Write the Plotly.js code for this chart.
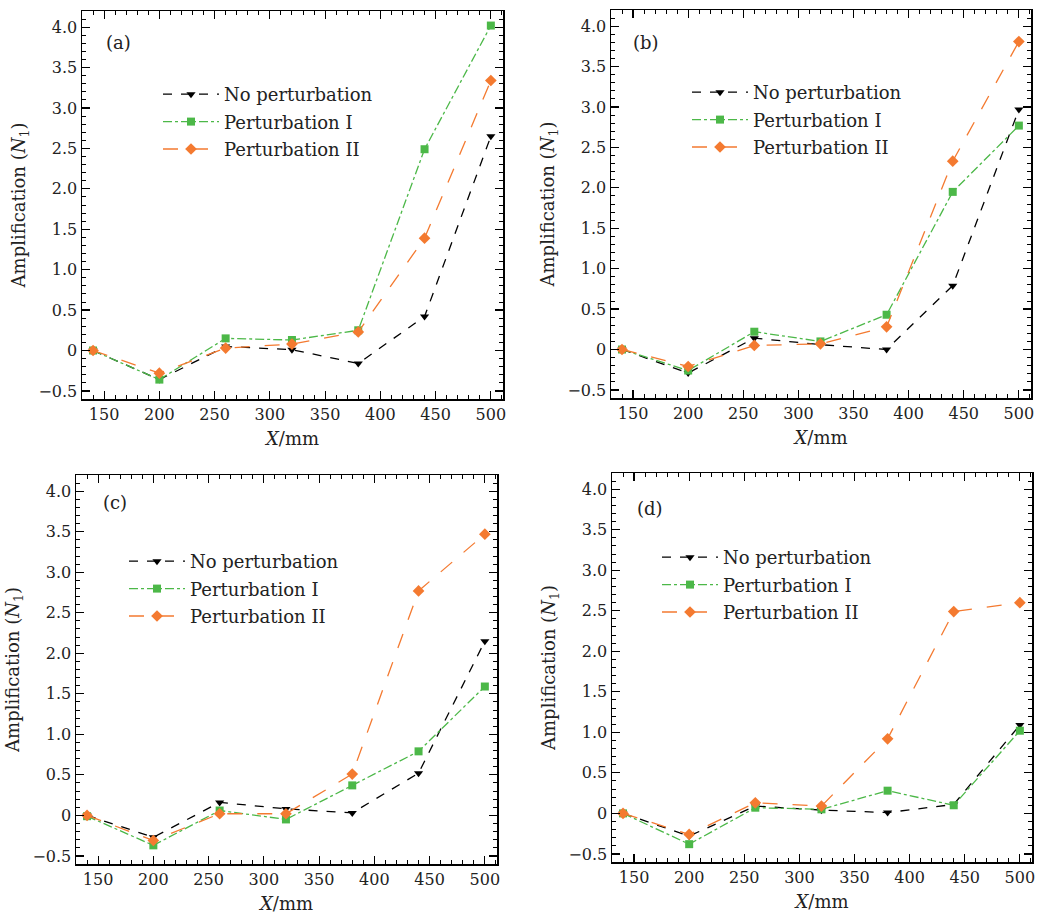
<!DOCTYPE html>
<html>
<head>
<meta charset="utf-8">
<script src="https://cdn.plot.ly/plotly-3.0.1.min.js"></script>
<style>html,body{margin:0;padding:0;background:#fff;}#chart{width:1043px;height:922px;}</style>
</head>
<body>
<div id="chart"></div>
<script>
// ---- data ----
const xPos = [140, 200, 260, 320, 380, 440, 500];
const seriesNames = ["No perturbation", "Perturbation I", "Perturbation II"];
const panelLabels = ["(a)", "(b)", "(c)", "(d)"];

const aNone = [0, -0.36, 0.05, 0.01, -0.16, 0.42, 2.65];
const aPert1 = [0, -0.36, 0.15, 0.13, 0.25, 2.49, 4.02];
const aPert2 = [0, -0.28, 0.03, 0.08, 0.23, 1.39, 3.34];

const bNone = [0, -0.29, 0.14, 0.06, 0.0, 0.79, 2.97];
const bPert1 = [0, -0.26, 0.22, 0.10, 0.43, 1.95, 2.77];
const bPert2 = [0, -0.21, 0.05, 0.07, 0.28, 2.33, 3.81];

const cNone = [0, -0.27, 0.16, 0.08, 0.03, 0.52, 2.15];
const cPert1 = [-0.01, -0.37, 0.06, -0.05, 0.37, 0.79, 1.59];
const cPert2 = [0, -0.31, 0.02, 0.02, 0.51, 2.77, 3.47];

const dNone = [0, -0.28, 0.09, 0.04, 0.01, 0.11, 1.09];
const dPert1 = [0, -0.38, 0.07, 0.05, 0.28, 0.10, 1.02];
const dPert2 = [0, -0.26, 0.13, 0.09, 0.92, 2.49, 2.60];

const xTickVals = [150, 200, 250, 300, 350, 400, 450, 500];
const xTickText = ["150", "200", "250", "300", "350", "400", "450", "500"];
const yTickVals = [-0.5, 0, 0.5, 1.0, 1.5, 2.0, 2.5, 3.0, 3.5, 4.0];
const yTickText = ["\u22120.5", "0", "0.5", "1.0", "1.5", "2.0", "2.5", "3.0", "3.5", "4.0"];

// ---- styles ----
const FONT = "DejaVu Serif";
const styles = [
  {color: "#000000", dash: "dash", symbol: "triangle-down", size: 8},
  {color: "#4cb848", dash: "dashdot", symbol: "square", size: 8},
  {color: "#f47a30", dash: "longdash", symbol: "diamond", size: 9}
];
const panels = [
  {data: [aNone, aPert1, aPert2], xd: [82/1043, 503/1043], yd: [1-399/922, 1-11/922],
   leg: {x: 158/1043, y: 1-76/922}, lab: {x: 104/1043, y: 1-43/922}},
  {data: [bNone, bPert1, bPert2], xd: [611/1043, 1031/1043], yd: [1-398/922, 1-10/922],
   leg: {x: 687/1043, y: 1-74/922}, lab: {x: 631/1043, y: 1-43/922}},
  {data: [cNone, cPert1, cPert2], xd: [76/1043, 497/1043], yd: [1-864/922, 1-475/922],
   leg: {x: 124/1043, y: 1-543/922}, lab: {x: 101/1043, y: 1-503/922}},
  {data: [dNone, dPert1, dPert2], xd: [612/1043, 1032/1043], yd: [1-862/922, 1-473/922],
   leg: {x: 657/1043, y: 1-539/922}, lab: {x: 635/1043, y: 1-508/922}}
];

const traces = [];
const layout = {
  width: 1043, height: 922,
  margin: {l: 0, r: 0, t: 0, b: 0},
  paper_bgcolor: "#ffffff", plot_bgcolor: "#ffffff",
  font: {family: FONT, color: "#222222"},
  annotations: []
};

panels.forEach((p, i) => {
  const n = i === 0 ? "" : String(i + 1);
  const legName = "legend" + n;
  p.data.forEach((vals, k) => {
    const s = styles[k];
    traces.push({
      type: "scatter", mode: "lines+markers",
      x: xPos, y: vals, name: seriesNames[k],
      xaxis: "x" + n, yaxis: "y" + n,
      legend: legName, legendgroup: "g" + i + "_" + k,
      line: {color: s.color, dash: s.dash, width: 1.3},
      marker: {symbol: s.symbol, size: s.size, color: s.color}
    });
  });
  const axBase = {
    showline: true, linecolor: "#000", linewidth: 1.5, mirror: "allticks",
    ticks: "inside", ticklen: 8, tickwidth: 1.2, tickcolor: "#000",
    showgrid: false, zeroline: false,
    tickfont: {family: FONT, size: 16, color: "#222"}
  };
  layout["xaxis" + n] = Object.assign({}, axBase, {
    domain: p.xd, anchor: "y" + n, range: [130, 511],
    tickmode: "array", tickvals: xTickVals, ticktext: xTickText,
    minor: {dtick: 10, tick0: 0, ticks: "inside", ticklen: 4, tickwidth: 1, tickcolor: "#000", showgrid: false},
    title: {text: "<i>X</i>/mm", font: {family: FONT, size: 18, color: "#222"}, standoff: 9}
  });
  layout["yaxis" + n] = Object.assign({}, axBase, {
    domain: p.yd, anchor: "x" + n, range: [-0.6, 4.2],
    tickmode: "array", tickvals: yTickVals, ticktext: yTickText,
    minor: {dtick: 0.1, tick0: 0, ticks: "inside", ticklen: 4, tickwidth: 1, tickcolor: "#000", showgrid: false},
    title: {text: "Amplification (<i>N</i><sub>1</sub>)", font: {family: FONT, size: 18, color: "#222"}, standoff: 8}
  });
  layout[legName] = {
    x: p.leg.x, y: p.leg.y, xanchor: "left", yanchor: "top",
    bgcolor: "rgba(0,0,0,0)", borderwidth: 0,
    font: {family: FONT, size: 18, color: "#222"},
    traceorder: "grouped", tracegroupgap: 1, itemwidth: 56
  };
  layout.annotations.push({
    xref: "paper", yref: "paper", x: p.lab.x, y: p.lab.y,
    xanchor: "left", yanchor: "middle", showarrow: false,
    text: panelLabels[i], font: {family: FONT, size: 18, color: "#222"}
  });
});

Plotly.newPlot("chart", traces, layout, {displayModeBar: false, staticPlot: true});
</script>
</body>
</html>
